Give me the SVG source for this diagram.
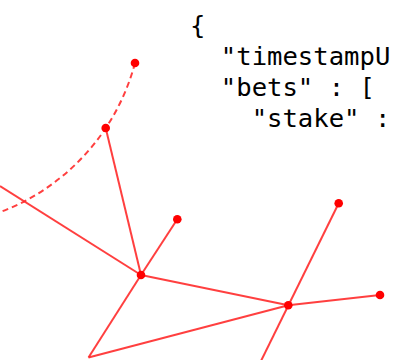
<svg xmlns="http://www.w3.org/2000/svg" width="397" height="360" viewBox="0 0 397 360">
<style>
.e{fill:none;stroke:#ff2a2a;stroke-width:2;stroke-opacity:0.9}
.d{stroke-dasharray:6 4}
.n{fill:#ff0000}
.t{font-family:"DejaVu Sans Mono",monospace;font-size:25.6px;fill:#000}
</style>
<rect width="397" height="360" fill="#fff"/>
<g id="code">
<text class="t" x="190" y="34" xml:space="preserve">{</text>
<text class="t" x="190" y="65" xml:space="preserve">  "timestampU</text>
<text class="t" x="190" y="96" xml:space="preserve">  "bets" : [</text>
<text class="t" x="190" y="127" xml:space="preserve">    "stake" :</text>
</g>
<g id="connectors">
<path class="e d" d="M135,63 A219.5,219.5 0 0,1 -5,214"/>
<line class="e" x1="105.7" y1="128" x2="141" y2="275"/>
<line class="e" x1="177.3" y1="219.3" x2="141" y2="275"/>
<line class="e" x1="0" y1="186" x2="141" y2="275"/>
<line class="e" x1="141" y1="275" x2="288.3" y2="305.3"/>
<line class="e" x1="141" y1="275" x2="88.5" y2="357.5"/>
<line class="e" x1="288.3" y1="305.3" x2="88.5" y2="357.5"/>
<line class="e" x1="338.7" y1="203.3" x2="259" y2="365"/>
<line class="e" x1="288.3" y1="305.3" x2="380" y2="295"/>
</g>
<g id="nA"><circle class="n" cx="135" cy="63" r="4.3"/></g>
<g id="nB"><circle class="n" cx="105.7" cy="128" r="4.3"/></g>
<g id="nC"><circle class="n" cx="177.3" cy="219.3" r="4.3"/></g>
<g id="nD"><circle class="n" cx="141" cy="275" r="4.3"/></g>
<g id="nE"><circle class="n" cx="288.3" cy="305.3" r="4.3"/></g>
<g id="nF"><circle class="n" cx="338.7" cy="203.3" r="4.3"/></g>
<g id="nG"><circle class="n" cx="380" cy="295" r="4.3"/></g>
</svg>
